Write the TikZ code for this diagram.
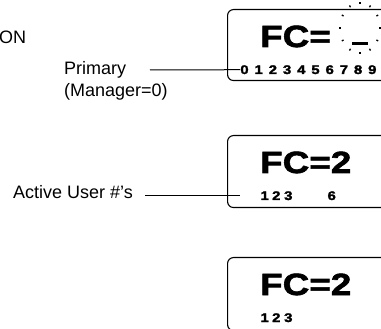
\documentclass[tikz,border=0pt]{standalone}
\usepackage{fontspec}
\setmainfont{Liberation Sans}
\newfontfamily\lcdfont[FakeStretch=1.2,FakeBold=2,UprightFont={* Bold}]{Liberation Sans}
\usetikzlibrary{positioning}

\begin{document}
\begin{tikzpicture}[x=1pt,y=-1pt,
  lcdbox/.style={draw,line width=1.1pt,rounded corners=6pt,anchor=north west,minimum width=180pt,minimum height=72pt},
  bigtext/.style={anchor=base west,inner sep=0pt,font=\lcdfont\fontsize{30.7}{32}\selectfont},
  digit/.style={anchor=base,inner sep=0pt,font=\lcdfont\fontsize{12.5}{14}\selectfont},
  leadtext/.style={anchor=base west,inner sep=0pt,font=\fontsize{18}{21}\selectfont},
  leader/.style={line width=1pt}]
\useasboundingbox (0,0) rectangle (381,329);
\clip (0,0) rectangle (381,329);
% display boxes, cut at the right edge
\node[lcdbox,minimum height=71pt] (topbox) at (227,9) {};
\node[lcdbox] (midbox) at (227,135) {};
\node[lcdbox,minimum height=73pt] (lowbox) at (227,257) {};
% display readings
\node[bigtext] (fc1) at (260,47) {FC=};
\node[bigtext] (fc2) at (260,173) {FC=2};
\node[bigtext] (fc3) at (260,295) {FC=2};
\foreach \d in {0,...,9}
  {  \node[digit] (d\d) at (244.5+14.2*\d,74) {\d};}
\foreach \d/\x in {1/264.7,2/276.3,3/288.3,6/331.7}
  {  \node[digit] (m\d) at (\x,200) {\d};}
\foreach \d/\x in {1/264.7,2/276.3,3/288.3}
  {  \node[digit] (b\d) at (\x,322) {\d};}
% blinking cursor
\coordinate (blink) at (360,28);
\fill (blink) ++(-8,14) rectangle ++(16,3);
\foreach \a in {0,30,...,330}
  {  \draw[line width=1.3pt] (blink) ++(\a:19pt and 24pt) -- ++(\a:2pt);}
% labels
\node[leadtext] (on) at (-1,44) {ON};
\node[leadtext] (prim) at (64,75) {Primary};
\node[leadtext] (mgr) at (64,97) {(Manager=0)};
\node[leadtext] (act) at (13,199) {Active User \#'s};
\coordinate (primtail) at (150,70);
\draw[leader] (primtail) -- (d0.west);
\coordinate (acttail) at (145,196);
\coordinate (acthead) at (240,196);
\draw[leader] (acttail) -- (acthead);
\end{tikzpicture}
\end{document}
